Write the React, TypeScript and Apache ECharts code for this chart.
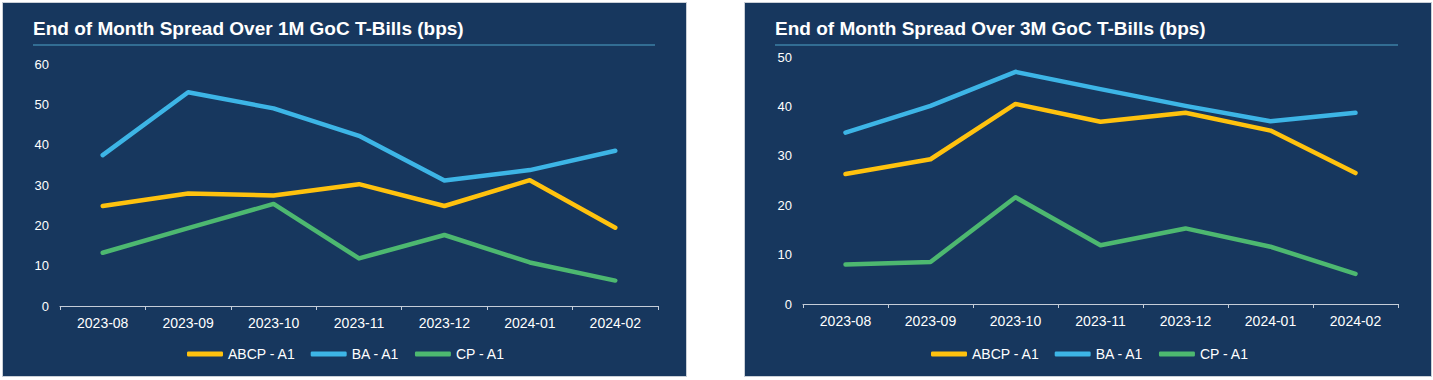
import React, { useEffect, useRef } from "react";
import * as echarts from "echarts";

const months = ["2023-08", "2023-09", "2023-10", "2023-11", "2023-12", "2024-01", "2024-02"];
const seriesNames = ["ABCP - A1", "BA - A1", "CP - A1"];

// 1M spread (bps)
const abcp1M = [24.8, 27.9, 27.4, 30.2, 24.8, 31.2, 19.4];
const ba1M = [37.4, 53.0, 49.0, 42.2, 31.1, 33.7, 38.5];
const cp1M = [13.2, 19.3, 25.3, 11.8, 17.6, 10.8, 6.3];

// 3M spread (bps)
const abcp3M = [26.3, 29.3, 40.5, 36.9, 38.7, 35.1, 26.5];
const ba3M = [34.7, 40.1, 47.0, 43.5, 40.1, 37.0, 38.7];
const cp3M = [8.0, 8.5, 21.6, 11.9, 15.3, 11.6, 6.1];

const title1M = "End of Month Spread Over 1M GoC T-Bills (bps)";
const title3M = "End of Month Spread Over 3M GoC T-Bills (bps)";

const colors = ["#FFC20E", "#3DB5E6", "#4DB870"];
const panelBg = "#17375E";
const FONT = "Arial, 'Liberation Sans', Helvetica, sans-serif";

export default function App() {
  const ref = useRef<HTMLDivElement>(null);

  useEffect(() => {
    if (!ref.current) return;
    const chart = echarts.init(ref.current, undefined, { renderer: "svg" });

    const xAxisBase = (gridIndex: number) => ({
      type: "category",
      gridIndex,
      data: months,
      boundaryGap: true,
      axisLine: { show: true, lineStyle: { color: "#C5CDD8", width: 1 } },
      axisTick: { show: true, length: 4, alignWithLabel: false, lineStyle: { color: "#C5CDD8" } },
      axisLabel: { color: "#FFFFFF", fontSize: 14, fontFamily: FONT, margin: 10 },
      splitLine: { show: false },
    });
    const yAxisBase = (gridIndex: number, max: number) => ({
      type: "value",
      gridIndex,
      min: 0,
      max,
      interval: 10,
      axisLine: { show: false },
      axisTick: { show: false },
      splitLine: { show: false },
      axisLabel: { color: "#FFFFFF", fontSize: 13, fontFamily: FONT, margin: 11 },
    });
    const lineSeries = (name: string, data: number[], idx: number, axisIndex: number) => ({
      type: "line",
      name,
      data,
      xAxisIndex: axisIndex,
      yAxisIndex: axisIndex,
      showSymbol: false,
      symbol: "none",
      color: colors[idx],
      lineStyle: { width: 4.5, color: colors[idx], cap: "round", join: "round" },
      z: 3,
    });

    const legendBase = (left: number) => ({
      left,
      top: 342,
      data: seriesNames,
      icon: "roundRect",
      itemWidth: 36,
      itemHeight: 5,
      itemGap: 15,
      textStyle: { color: "#FFFFFF", fontSize: 14, fontFamily: FONT },
    });

    chart.setOption({
      animation: false,
      textStyle: { fontFamily: FONT },
      graphic: [
        {
          type: "rect",
          z: -10,
          shape: { x: 2.5, y: 2.5, width: 684, height: 374 },
          style: { fill: panelBg, stroke: "#C9CFD7", lineWidth: 1 },
          silent: true,
        },
        {
          type: "rect",
          z: -10,
          shape: { x: 744.5, y: 2.5, width: 687, height: 374 },
          style: { fill: panelBg, stroke: "#C9CFD7", lineWidth: 1 },
          silent: true,
        },
        {
          type: "line",
          z: -5,
          shape: { x1: 33, y1: 45, x2: 655, y2: 45 },
          style: { stroke: "#4FA3C7", lineWidth: 1.2 },
          silent: true,
        },
        {
          type: "line",
          z: -5,
          shape: { x1: 775, y1: 45, x2: 1398, y2: 45 },
          style: { stroke: "#4FA3C7", lineWidth: 1.2 },
          silent: true,
        },
      ],
      title: [
        {
          text: title1M,
          left: 33,
          top: 19,
          padding: 0,
          textStyle: { color: "#FFFFFF", fontSize: 19, fontWeight: "bold", fontFamily: FONT },
        },
        {
          text: title3M,
          left: 775,
          top: 19,
          padding: 0,
          textStyle: { color: "#FFFFFF", fontSize: 19, fontWeight: "bold", fontFamily: FONT },
        },
      ],
      legend: [legendBase(182), legendBase(926)],
      grid: [
        { left: 60, top: 64, width: 598, height: 242, containLabel: false },
        { left: 803, top: 57, width: 595, height: 247, containLabel: false },
      ],
      xAxis: [xAxisBase(0), xAxisBase(1)],
      yAxis: [yAxisBase(0, 60), yAxisBase(1, 50)],
      series: [
        lineSeries(seriesNames[0], abcp1M, 0, 0),
        lineSeries(seriesNames[1], ba1M, 1, 0),
        lineSeries(seriesNames[2], cp1M, 2, 0),
        lineSeries(seriesNames[0], abcp3M, 0, 1),
        lineSeries(seriesNames[1], ba3M, 1, 1),
        lineSeries(seriesNames[2], cp3M, 2, 1),
      ],
    });

    return () => chart.dispose();
  }, []);

  return (
    <div
      ref={ref}
      style={{ position: "fixed", left: 0, top: 0, width: 1433, height: 380, background: "#FFFFFF" }}
    />
  );
}
